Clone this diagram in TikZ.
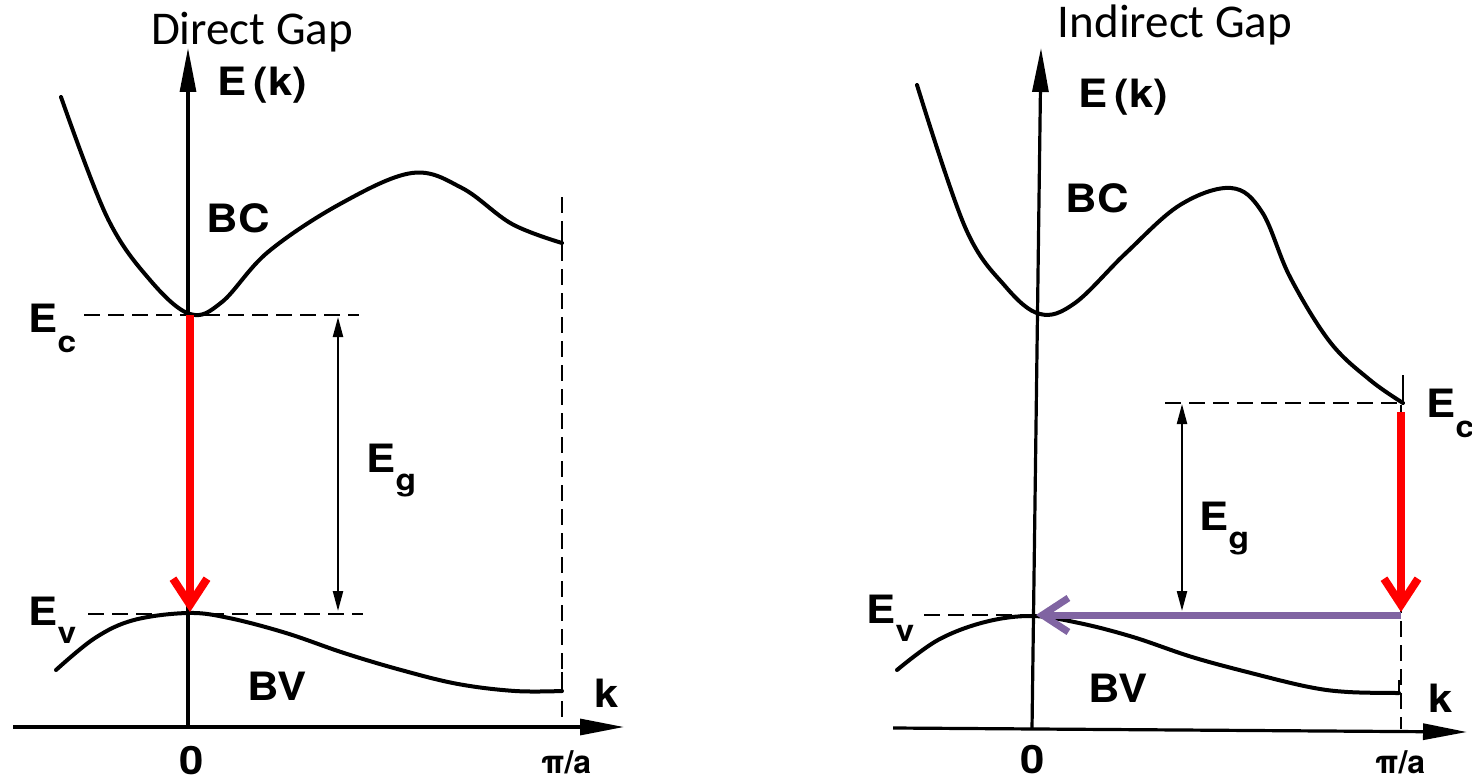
\documentclass[tikz,border=0pt]{standalone}
\usepackage{fontspec}
\usepackage{graphicx}
\setmainfont{Carlito}
\newfontfamily\heros{TeX Gyre Heros}
\usetikzlibrary{arrows.meta}
\definecolor{gapred}{RGB}{255,0,0}
\definecolor{gappurple}{RGB}{128,100,162}
\newcommand\wideL[1]{\scalebox{1.12}[1]{#1}}
\newcommand\Esub[2]{\wideL{E}\raisebox{-#1}{\wideL{\fontsize{15}{15}\selectfont #2}}}
\begin{document}
\begin{tikzpicture}[x=0.5pt,y=-0.5pt,
  curve/.style={line width=2pt, line cap=round, line join=round},
  axis/.style={line width=1.6pt, -{Triangle[length=22pt,width=8pt]}},
  dashln/.style={line width=0.9pt, dash pattern=on 8pt off 4pt},
  gaparr/.style={line width=1.1pt, {Triangle[length=10pt,width=5pt]}-{Triangle[length=10pt,width=5pt]}},
  lbl/.style={font=\heros\bfseries\fontsize{19.5}{20}\selectfont, inner sep=0pt},
  smalllbl/.style={font=\heros\bfseries\fontsize{16}{16}\selectfont, inner sep=0pt},
  title/.style={font=\fontsize{23.5}{24}\selectfont, inner sep=0pt},
  redarr/.style={draw=gapred, line width=4pt, -{Straight Barb[length=13pt,width=17pt]}},
  purparr/.style={draw=gappurple, line width=3.5pt, -{Straight Barb[length=13pt,width=17pt]}},
]
\useasboundingbox (0,0) rectangle (1472,781);

% ================= LEFT: Direct gap =================
\coordinate (LO) at (188,727);
\coordinate (LT) at (188,48);
\coordinate (LXs) at (13,727);
\coordinate (LXe) at (624,727);
\coordinate (LEc) at (190,315);
\coordinate (LEv) at (190,612);

\node[title, anchor=base] (t1) at (252,45) {Direct Gap};

% axes
\draw[axis] (LO) -- (LT);
\draw[axis] (LXs) -- (LXe);
% zone boundary
\draw[dashln] (562,197) -- (562,727);
\draw[line width=1.4pt] (562,226) -- (562,252);
\draw[line width=1.4pt] (562,672) -- (562,692);

% level lines
\draw[dashln] (84,315) -- (359,315);
\draw[dashln] (88,614) -- (363,614);

% conduction band
\draw[curve] plot[smooth, tension=0.6] coordinates {(61,97) (107,217) (150,280) (190,314) (222,302) (268,252) (340,204) (412,173) (462,188) (512,224) (562,243)};
% valence band
\draw[curve] plot[smooth, tension=0.6] coordinates {(56,670) (95,638) (134,620) (188,613) (229,618) (286,633) (344,653) (401,670) (458,684) (515,691) (562,691)};

% gap arrow
\draw[gaparr] (338,317) -- (338,611);
% red transition
\draw[redarr] (LEc) -- (LEv);

% labels
\node[lbl, anchor=base] (lek) at (262,96) {\wideL{E\,(k)}};
\node[lbl, anchor=base] (lbc) at (238,232) {\wideL{BC}};
\node[lbl, anchor=base] (lbv) at (277,700) {\wideL{BV}};
\node[lbl, anchor=base west] (lec) at (28,332) {\Esub{10pt}{c}};
\node[lbl, anchor=base west] (lev) at (28,625) {\Esub{9pt}{v}};
\node[lbl, anchor=base west] (leg) at (366,472) {\Esub{9pt}{g}};
\node[lbl, anchor=base] (lk) at (607,707) {\wideL{k}};
\node[lbl, anchor=base] (l0) at (192,774) {\wideL{0}};
\node[smalllbl, anchor=base] (lpa) at (566,773) {π/a};

% ================= RIGHT: Indirect gap =================
\coordinate (RO) at (1032,729);
\coordinate (RT) at (1041,48);
\coordinate (RXs) at (893,728);
\coordinate (RXe) at (1467,732);
\coordinate (REc) at (1401,412);
\coordinate (REv) at (1401,612);
\coordinate (RPs) at (1401,615);
\coordinate (RPe) at (1036,615);

\node[title, anchor=base] (t2) at (1175,38) {Indirect Gap};

\draw[axis] (RO) -- (RT);
\draw[axis] (RXs) -- (RXe);
\draw[dashln] (1401,405) -- (1401,729);
\draw[line width=1.4pt] (1403,375) -- (1403,405);
\draw[line width=1.4pt] (1399,680) -- (1399,694);

\draw[dashln] (1165,403) -- (1399,403);
\draw[dashln] (924,615) -- (1200,615);

\draw[curve] plot[smooth, tension=0.6] coordinates {(917,85) (965,227) (1005,286) (1040,314) (1075,303) (1126,253) (1180,205) (1231,188) (1262,212) (1290,277) (1330,342) (1370,380) (1403,403)};
\draw[curve] plot[smooth, tension=0.6] coordinates {(897,670) (938,640) (985,622) (1032,616) (1079,623) (1133,637) (1192,657) (1251,673) (1309,687) (1348,692) (1399,693)};

\draw[gaparr] (1182,404) -- (1182,611);
\draw[redarr] (REc) -- (REv);
\draw[purparr] (RPs) -- (RPe);

\node[lbl, anchor=base] (rek) at (1123,108) {\wideL{E\,(k)}};
\node[lbl, anchor=base] (rbc) at (1097,213) {\wideL{BC}};
\node[lbl, anchor=base] (rbv) at (1118,702) {\wideL{BV}};
\node[lbl, anchor=base west] (rec) at (1426,417) {\Esub{10pt}{c}};
\node[lbl, anchor=base west] (rev) at (866,623) {\Esub{9pt}{v}};
\node[lbl, anchor=base west] (reg) at (1199,530) {\Esub{9pt}{g}};
\node[lbl, anchor=base] (rk) at (1441,712) {\wideL{k}};
\node[lbl, anchor=base] (r0) at (1033,773) {\wideL{0}};
\node[smalllbl, anchor=base] (rpa) at (1400,773) {π/a};
\end{tikzpicture}
\end{document}
